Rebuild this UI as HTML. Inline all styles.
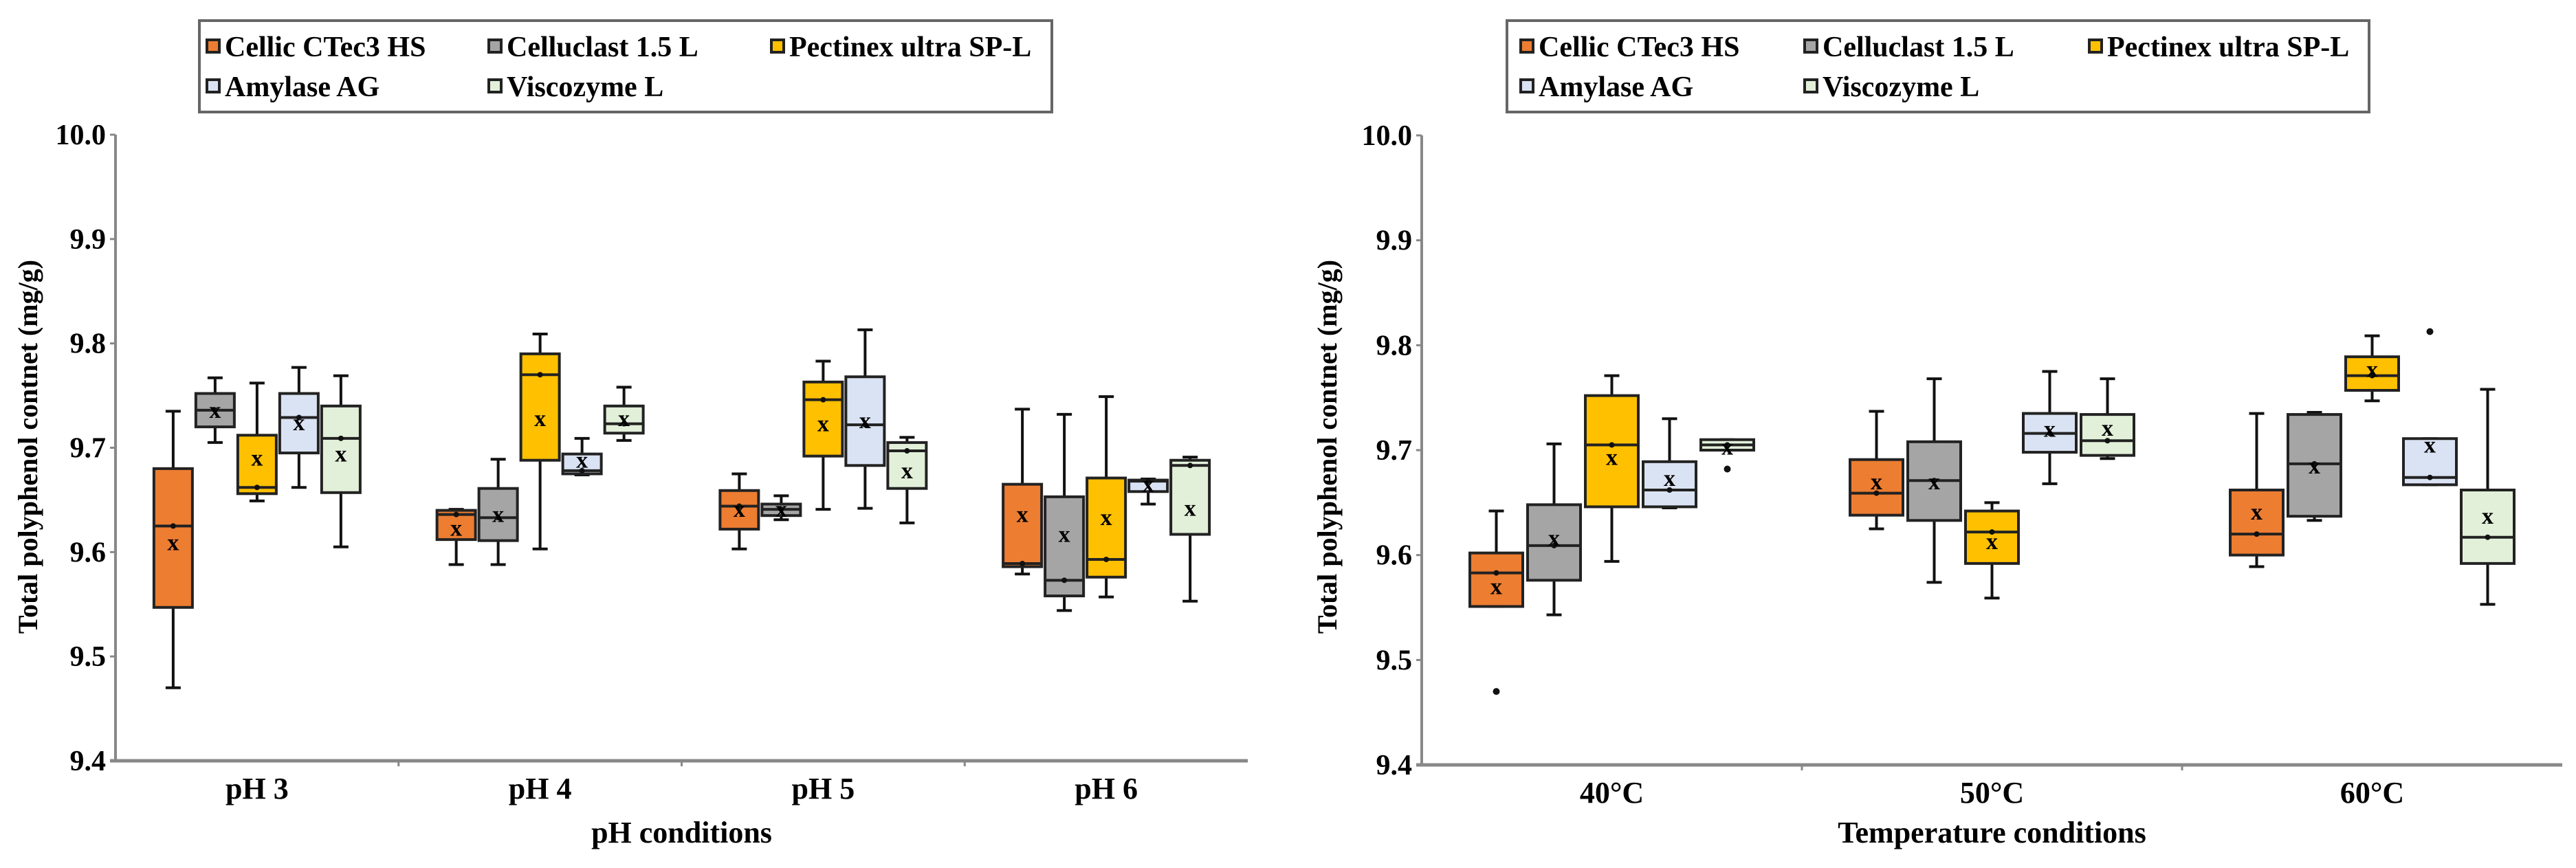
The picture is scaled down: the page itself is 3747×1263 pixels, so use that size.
<!DOCTYPE html>
<html><head><meta charset="utf-8">
<style>
html,body{margin:0;padding:0;background:#fff;}
svg{display:block;}
text{font-family:"Liberation Serif",serif;font-weight:bold;fill:#000;}
</style></head>
<body>
<svg id="chart" width="3747" height="1263" viewBox="0 0 3747 1263" xmlns="http://www.w3.org/2000/svg"></svg>
<script>
// ---- shared data ----
const seriesNames = ["Cellic CTec3 HS","Celluclast 1.5 L","Pectinex ultra SP-L","Amylase AG","Viscozyme L"];
const seriesColors = ["#ED7D31","#A5A5A5","#FFC000","#DAE3F3","#E2F0D9"];
const yTicks = [9.4,9.5,9.6,9.7,9.8,9.9,10.0];
const yTickLabels = ["9.4","9.5","9.6","9.7","9.8","9.9","10.0"];

// ---- pH chart data: [min, q1, median, q3, max] per enzyme ----
const phCategories = ["pH 3","pH 4","pH 5","pH 6"];
const phCellic   = [[9.470,9.547,9.625,9.680,9.735],[9.588,9.612,9.636,9.640,9.641],[9.603,9.622,9.644,9.659,9.675],[9.579,9.586,9.589,9.665,9.737]];
const phCelluclast=[[9.705,9.720,9.736,9.752,9.767],[9.588,9.611,9.633,9.661,9.689],[9.631,9.635,9.641,9.646,9.654],[9.544,9.558,9.573,9.653,9.732]];
const phPectinex = [[9.649,9.656,9.662,9.712,9.762],[9.603,9.688,9.770,9.790,9.809],[9.641,9.692,9.746,9.763,9.783],[9.557,9.576,9.593,9.671,9.749]];
const phAmylase  = [[9.662,9.695,9.729,9.752,9.777],[9.674,9.675,9.678,9.694,9.709],[9.642,9.683,9.722,9.768,9.813],[9.646,9.658,9.668,9.669,9.670]];
const phVisco    = [[9.605,9.657,9.709,9.740,9.769],[9.707,9.714,9.723,9.740,9.758],[9.628,9.661,9.697,9.705,9.710],[9.553,9.617,9.683,9.688,9.691]];
const phMeans    = [[9.609,9.736,9.690,9.724,9.694],[9.623,9.636,9.728,9.688,9.728],[9.641,9.641,9.723,9.726,9.678],[9.636,9.617,9.633,9.665,9.642]];
const phOutliers = [];

// ---- Temperature chart data ----
const tCategories = ["40\u00B0C","50\u00B0C","60\u00B0C"];
const tCellic    = [[9.551,9.551,9.583,9.602,9.642],[9.625,9.638,9.659,9.691,9.737],[9.589,9.600,9.620,9.662,9.735]];
const tCelluclast= [[9.543,9.576,9.609,9.648,9.706],[9.574,9.633,9.671,9.708,9.768],[9.633,9.637,9.687,9.734,9.736]];
const tPectinex  = [[9.594,9.646,9.705,9.752,9.771],[9.559,9.592,9.622,9.642,9.650],[9.747,9.757,9.771,9.789,9.809]];
const tAmylase   = [[9.645,9.646,9.662,9.689,9.730],[9.668,9.698,9.716,9.735,9.775],[9.667,9.667,9.674,9.711,9.711]];
const tVisco     = [[9.700,9.700,9.705,9.710,9.710],[9.692,9.695,9.709,9.734,9.768],[9.553,9.592,9.617,9.662,9.758]];
const tMeans     = [[9.570,9.616,9.693,9.673,9.703],[9.670,9.670,9.613,9.720,9.721],[9.641,9.685,9.777,9.705,9.637]];
// outliers: [category index, series index, value]
const tOutliers  = [[0,0,9.470],[0,4,9.682],[2,3,9.813]];

const NS = "http://www.w3.org/2000/svg";
const svg = document.getElementById("chart");
function mk(tag, attrs, parent){
  const e = document.createElementNS(NS, tag);
  for (const k in attrs) e.setAttribute(k, attrs[k]);
  (parent||svg).appendChild(e);
  return e;
}

function drawChart(cfg){
  const g = mk("g", {});
  
  
  const yScale = v => cfg.yBottom - (v - 9.4) / 0.6 * (cfg.yBottom - cfg.yTop);
  const catW = (cfg.xEnd - cfg.x0) / cfg.categories.length;
  const xCenter = i => cfg.x0 + catW * (i + 0.5);

  // legend
  const lg = mk("g", {}, g);
  
  
  const lb = mk("rect", {x:cfg.legX, y:30, width:cfg.legW, height:133, fill:"#fff", stroke:"#666", "stroke-width":4}, lg);
  
  
  seriesNames.forEach((n, i) => {
    const col = i < 3 ? i : i - 3;
    const row = i < 3 ? 0 : 1;
    const lx = cfg.legCols[col];
    const ly = row === 0 ? 67 : 125;
    const e = mk("g", {}, lg);
    
    
    mk("rect", {x:lx-9, y:ly-9, width:18, height:18, fill:seriesColors[i], stroke:"#222", "stroke-width":4}, e);
    const t = mk("text", {x:lx+17, y:ly+15, "font-size":42}, e);
    t.textContent = n;
  });

  // axes
  const ya = mk("line", {x1:cfg.x0, y1:cfg.yTop, x2:cfg.x0, y2:cfg.yBottom, stroke:"#888", "stroke-width":4}, g);
  
  
  const xa = mk("line", {x1:cfg.x0-8, y1:cfg.yBottom, x2:cfg.xEnd, y2:cfg.yBottom, stroke:"#888", "stroke-width":5}, g);
  
  
  yTicks.forEach((v, i) => {
    const y = yScale(v);
    mk("line", {x1:cfg.x0-8, y1:y, x2:cfg.x0, y2:y, stroke:"#888", "stroke-width":3}, g);
    const t = mk("text", {x:cfg.x0-14, y:y+14, "font-size":42, "text-anchor":"end"}, g);
    
    
    t.textContent = yTickLabels[i];
  });
  for (let i = 1; i < cfg.categories.length; i++) {
    const x = cfg.x0 + catW * i;
    mk("line", {x1:x, y1:cfg.yBottom, x2:x, y2:cfg.yBottom+8, stroke:"#888", "stroke-width":3}, g);
  }
  cfg.categories.forEach((c, i) => {
    const t = mk("text", {x:xCenter(i), y:cfg.yBottom+55, "font-size":44, "text-anchor":"middle"}, g);
    
    
    t.textContent = c;
  });
  const xt = mk("text", {x:(cfg.x0+cfg.xEnd)/2, y:1226, "font-size":44, "text-anchor":"middle"}, g);
  
  
  xt.textContent = cfg.xTitle;
  const yt = mk("text", {x:0, y:0, "font-size":40, "text-anchor":"middle", transform:`translate(${cfg.yTitleX},650) rotate(-90)`}, g);
  
  
  yt.textContent = "Total polyphenol contnet (mg/g)";

  // boxes
  cfg.series.forEach((ser, s) => {
    ser.forEach((d, c) => {
      const cx = xCenter(c) + (s - 2) * cfg.boxStep;
      const bw = cfg.boxW;
      const bg = mk("g", {}, g);
      
      
      const [mn, q1, md, q3, mx] = d;
      mk("line", {x1:cx, y1:yScale(mx), x2:cx, y2:yScale(q3), stroke:"#111", "stroke-width":4}, bg);
      mk("line", {x1:cx, y1:yScale(q1), x2:cx, y2:yScale(mn), stroke:"#111", "stroke-width":4}, bg);
      mk("line", {x1:cx-11, y1:yScale(mx), x2:cx+11, y2:yScale(mx), stroke:"#111", "stroke-width":4}, bg);
      mk("line", {x1:cx-11, y1:yScale(mn), x2:cx+11, y2:yScale(mn), stroke:"#111", "stroke-width":4}, bg);
      const top = yScale(q3), bot = yScale(q1);
      mk("rect", {x:cx-bw/2, y:top, width:bw, height:Math.max(bot-top,2), fill:seriesColors[s], stroke:"#222", "stroke-width":4}, bg);
      mk("line", {x1:cx-bw/2, y1:yScale(md), x2:cx+bw/2, y2:yScale(md), stroke:"#222", "stroke-width":4}, bg);
      mk("circle", {cx:cx, cy:yScale(md), r:4, fill:"#111"}, bg);
      const my = yScale(cfg.means[c][s]);
      const m = mk("text", {x:cx, y:my+11, "font-size":34, "text-anchor":"middle", "font-family":"Liberation Sans, sans-serif"}, bg);
      
      
      m.textContent = "x";
    });
  });
  cfg.outliers.forEach(o => {
    const cx = xCenter(o[0]) + (o[1] - 2) * cfg.boxStep;
    const p = mk("circle", {cx:cx, cy:yScale(o[2]), r:5, fill:"#111"}, g);
    
    
  });
}

drawChart({name:"ph-chart", categories:phCategories,
  series:[phCellic,phCelluclast,phPectinex,phAmylase,phVisco], means:phMeans, outliers:phOutliers,
  x0:168, xEnd:1815, yTop:196, yBottom:1107, boxStep:61, boxW:56,
  legX:290, legW:1240, legCols:[310,720,1131], xTitle:"pH conditions", yTitleX:54});

drawChart({name:"temperature-chart", categories:tCategories,
  series:[tCellic,tCelluclast,tPectinex,tAmylase,tVisco], means:tMeans, outliers:tOutliers,
  x0:2068, xEnd:3727, yTop:197, yBottom:1113, boxStep:84, boxW:77,
  legX:2192, legW:1254, legCols:[2221,2634,3048], xTitle:"Temperature conditions", yTitleX:1944});
</script>
</body></html>
